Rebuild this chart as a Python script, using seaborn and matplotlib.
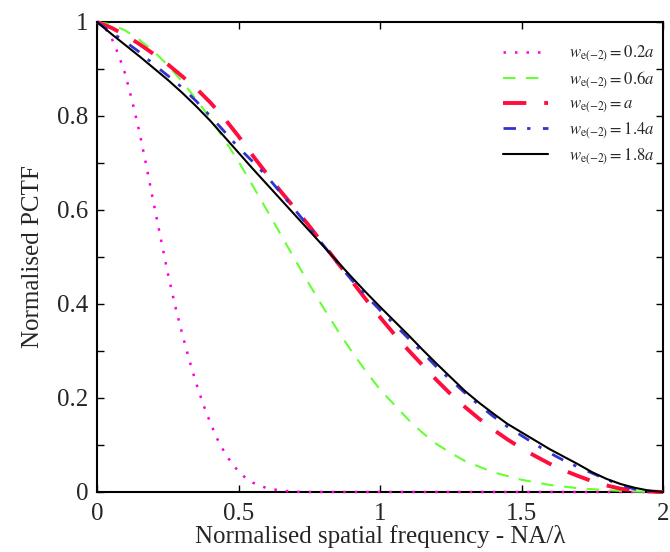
import numpy as np
import pandas as pd
import matplotlib
matplotlib.use("Agg")
import matplotlib.pyplot as plt
import seaborn as sns
from matplotlib.ticker import MultipleLocator, FuncFormatter

# ---- data ----
x_02 = [0.0, 0.025, 0.05, 0.075, 0.1, 0.125, 0.15, 0.175, 0.2, 0.225, 0.25, 0.275, 0.3,
        0.325, 0.35, 0.375, 0.4, 0.425, 0.45, 0.475, 0.5, 0.525, 0.55, 0.6, 0.65, 0.7,
        0.75, 1.0, 1.5, 2.0]
y_02 = [1.0, 0.99, 0.968, 0.932, 0.889, 0.830, 0.766, 0.692, 0.615, 0.540, 0.466, 0.399,
        0.339, 0.283, 0.232, 0.187, 0.148, 0.113, 0.085, 0.062, 0.044, 0.030, 0.020, 0.008,
        0.003, 0.0005, 0.0, 0.0, 0.0, 0.0]

x_06 = [0.0, 0.05, 0.1, 0.15, 0.2, 0.25, 0.3, 0.35, 0.4, 0.45, 0.5, 0.55, 0.6, 0.65, 0.7,
        0.75, 0.8, 0.85, 0.9, 0.95, 1.0, 1.05, 1.1, 1.15, 1.2, 1.25, 1.3, 1.4, 1.5, 1.6,
        1.7, 1.8, 1.9, 2.0]
y_06 = [1.0, 0.995, 0.982, 0.962, 0.938, 0.908, 0.874, 0.836, 0.795, 0.750, 0.703, 0.652,
        0.600, 0.547, 0.494, 0.442, 0.392, 0.344, 0.299, 0.257, 0.218, 0.186, 0.154, 0.126,
        0.102, 0.083, 0.066, 0.042, 0.026, 0.015, 0.008, 0.004, 0.001, 0.0]

x_10 = [0.0, 0.05, 0.1, 0.15, 0.2, 0.25, 0.3, 0.35, 0.4, 0.45, 0.5, 0.55, 0.6, 0.65, 0.7,
        0.75, 0.8, 0.85, 0.9, 0.95, 1.0, 1.05, 1.1, 1.15, 1.2, 1.25, 1.3, 1.35, 1.4, 1.45,
        1.5, 1.55, 1.6, 1.65, 1.7, 1.75, 1.8, 1.85, 1.9, 1.95, 2.0]
y_10 = [1.0, 0.988, 0.972, 0.953, 0.932, 0.910, 0.885, 0.859, 0.829, 0.795, 0.757, 0.716,
        0.677, 0.639, 0.603, 0.566, 0.527, 0.488, 0.449, 0.410, 0.372, 0.336, 0.302, 0.270,
        0.238, 0.208, 0.181, 0.156, 0.133, 0.112, 0.093, 0.076, 0.060, 0.046, 0.034, 0.023,
        0.014, 0.007, 0.003, 0.001, 0.0]

x_14 = [0.0, 0.05, 0.1, 0.15, 0.2, 0.25, 0.3, 0.35, 0.4, 0.45, 0.5, 0.55, 0.6, 0.65, 0.7,
        0.75, 0.8, 0.85, 0.9, 0.95, 1.0, 1.05, 1.1, 1.15, 1.2, 1.25, 1.3, 1.35, 1.4, 1.45,
        1.5, 1.55, 1.6, 1.65, 1.7, 1.75, 1.8, 1.85, 1.9, 1.95, 2.0]
y_14 = [1.0, 0.978, 0.958, 0.936, 0.910, 0.886, 0.861, 0.832, 0.800, 0.767, 0.733, 0.703,
        0.672, 0.636, 0.600, 0.563, 0.525, 0.487, 0.451, 0.418, 0.387, 0.357, 0.327, 0.297,
        0.266, 0.238, 0.211, 0.185, 0.161, 0.139, 0.120, 0.101, 0.083, 0.067, 0.053, 0.040,
        0.027, 0.015, 0.006, 0.002, 0.0]

x_18 = [0.0, 0.05, 0.1, 0.15, 0.2, 0.25, 0.3, 0.35, 0.4, 0.45, 0.5, 0.55, 0.6, 0.65, 0.7,
        0.75, 0.8, 0.85, 0.9, 0.95, 1.0, 1.05, 1.1, 1.15, 1.2, 1.25, 1.3, 1.35, 1.4, 1.45,
        1.5, 1.55, 1.6, 1.65, 1.7, 1.75, 1.8, 1.85, 1.9, 1.95, 2.0]
y_18 = [1.0, 0.975, 0.951, 0.927, 0.902, 0.877, 0.850, 0.821, 0.790, 0.756, 0.722, 0.688,
        0.655, 0.622, 0.589, 0.556, 0.523, 0.490, 0.457, 0.425, 0.394, 0.364, 0.334, 0.303,
        0.273, 0.244, 0.215, 0.190, 0.167, 0.145, 0.127, 0.109, 0.091, 0.075, 0.059, 0.042,
        0.028, 0.017, 0.009, 0.003, 0.0]

labels = [r"$w_{\mathrm{e(-2)}} = 0.2a$", r"$w_{\mathrm{e(-2)}} = 0.6a$",
          r"$w_{\mathrm{e(-2)}} = a$", r"$w_{\mathrm{e(-2)}} = 1.4a$",
          r"$w_{\mathrm{e(-2)}} = 1.8a$"]

xs = [x_02, x_06, x_10, x_14, x_18]
ys = [y_02, y_06, y_10, y_14, y_18]

colors = ["#ff00dd", "#66ff33", "#ff0d3d", "#3333cc", "#000000"]
styles = [(0, (1.0, 3.6)), (0, (6.0, 5.0)), (0, (6.0, 4.6)), (0, (4.5, 4.0, 1.2, 4.5)), "-"]
widths = [1.8, 1.5, 2.8, 2.0, 1.5]

sns.set_theme(style="ticks")
plt.rcParams["font.family"] = ["Liberation Serif", "DejaVu Serif"]
plt.rcParams["mathtext.fontset"] = "stix"

fig = plt.figure(figsize=(6.70, 5.52), dpi=100)
ax = fig.add_axes([97 / 670, 60 / 552, 566 / 670, 470 / 552])

for x, y, lab, c, ls, lw in zip(xs, ys, labels, colors, styles, widths):
    df = pd.DataFrame({"x": x, "y": y})
    sns.lineplot(data=df, x="x", y="y", ax=ax, color=c, linestyle=ls, linewidth=lw,
                 label=lab, sort=False, estimator=None, zorder=3, clip_on=False)

ax.set_xlim(0, 2)
ax.set_ylim(0, 1)
ax.xaxis.set_major_locator(MultipleLocator(0.5))
ax.yaxis.set_major_locator(MultipleLocator(0.2))
ax.yaxis.set_minor_locator(MultipleLocator(0.1))
ax.xaxis.set_major_formatter(FuncFormatter(lambda v, p: f"{v:g}"))
ax.yaxis.set_major_formatter(FuncFormatter(lambda v, p: f"{v:g}"))
ax.tick_params(which="both", direction="in", top=True, right=True, length=5, width=1,
               labelsize=18, color="black", pad=6)
ax.tick_params(axis="x", which="both", pad=8)
for s in ax.spines.values():
    s.set_linewidth(1.5)
    s.set_color("black")

ax.set_xlabel("Normalised spatial frequency - NA/λ", fontsize=18, labelpad=0)
ax.set_ylabel("Normalised PCTF", fontsize=18, labelpad=10)

leg = ax.legend(loc="upper right", frameon=False, fontsize=12, handlelength=2.7,
                labelspacing=0.33, bbox_to_anchor=(1.012, 0.985), handletextpad=1.25)

fig.savefig("out.png", dpi=100)
